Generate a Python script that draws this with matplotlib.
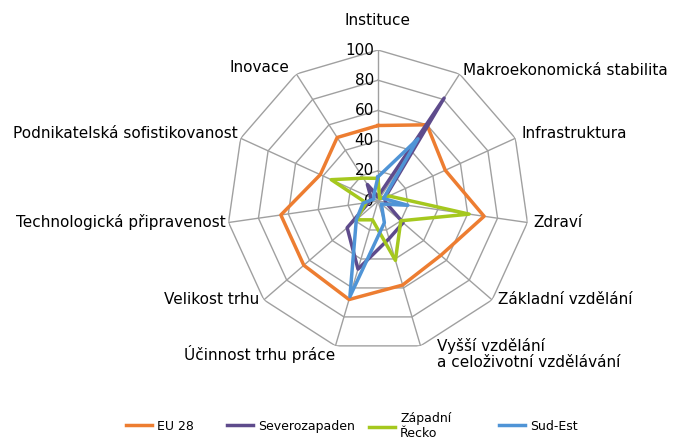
import numpy as np
import matplotlib
matplotlib.use("Agg")
import matplotlib.pyplot as plt

plt.rcParams['font.family'] = ['DejaVu Sans']

kategorie = ["Instituce", "Makroekonomická stabilita", "Infrastruktura", "Zdraví",
             "Základní vzdělání", "Vyšší vzdělání\na celoživotní vzdělávání",
             "Účinnost trhu práce", "Velikost trhu", "Technologická připravenost",
             "Podnikatelská sofistikovanost", "Inovace"]

eu28 = [50, 60, 49, 71, 55, 58, 68, 65, 65, 42, 50]
severozapaden = [3, 81, 5, 5, 22, 26, 47, 27, 6, 5, 13]
zapadni_recko = [15, 2, 8, 61, 20, 41, 13, 19, 8, 34, 18]
sud_est = [16, 49, 4, 20, 3, 15, 66, 19, 10, 3, 5]

serie = [("EU 28", eu28, "#ED7D31"),
         ("Severozapaden", severozapaden, "#5E4B8C"),
         ("Západní\nŘecko", zapadni_recko, "#A5C81E"),
         ("Sud-Est", sud_est, "#4F94D6")]

ticks = [0, 20, 40, 60, 80, 100]

n = len(kategorie)
uhly = np.linspace(0, 2 * np.pi, n, endpoint=False)
uhly_z = np.append(uhly, uhly[0])

fig = plt.figure(figsize=(6.76, 4.43), dpi=100)
ax = fig.add_axes([0.3358, 0.2054, 0.4467, 0.6817], projection='polar')
ax.set_theta_zero_location('N')
ax.set_theta_direction(-1)
ax.set_ylim(0, 100)
ax.grid(False)
ax.spines['polar'].set_visible(False)
ax.set_xticks([])
ax.set_yticks([])

# mnohouhelnikova mrizka
for t in ticks[1:]:
    ax.plot(uhly_z, [t] * (n + 1), color="#A0A0A0", lw=1, zorder=1)
for u in uhly:
    ax.plot([u, u], [0, 100], color="#A0A0A0", lw=1, zorder=1)

for t in ticks:
    ax.annotate(str(t), xy=(0, t), xytext=(-3, 0), textcoords='offset points',
                ha='right', va='center', fontsize=11, color='black')

lines = []
for nazev, hodnoty, barva in serie:
    h = list(hodnoty) + [hodnoty[0]]
    l, = ax.plot(uhly_z, h, color=barva, lw=2.5, label=nazev, zorder=3)
    lines.append(l)

# popisky kategorii: (ha, va, dx, dy) v pixelech
poz = [("center", "bottom", 0, 22),
       ("left", "center", 3, 3),
       ("left", "center", 6, 5),
       ("left", "center", 6, 0),
       ("left", "center", 6, 0),
       ("left", "top", 16, 8),
       ("right", "top", 0, 1),
       ("right", "center", -5, 0),
       ("right", "center", -3, 0),
       ("right", "center", -3, 5),
       ("right", "center", -7, 6)]
for u, k, (ha, va, dx, dy) in zip(uhly, kategorie, poz):
    ax.annotate(k, xy=(u, 100), xytext=(dx * 0.72, dy * 0.72), textcoords='offset points',
                ha=ha, va=va, fontsize=11, color='black', linespacing=1.1)

# legenda - kazda polozka zvlast, stejne sloupce jako v Excelu
leg_x = [126, 227, 369, 499]
for l, x in zip(lines, leg_x):
    fig.legend(handles=[l], loc='center left', bbox_to_anchor=(x / 676, 0.038),
               frameon=False, fontsize=9, handlelength=2.1, handletextpad=0.4,
               borderpad=0, borderaxespad=0, labelspacing=0)

fig.savefig("out.png", dpi=100)
